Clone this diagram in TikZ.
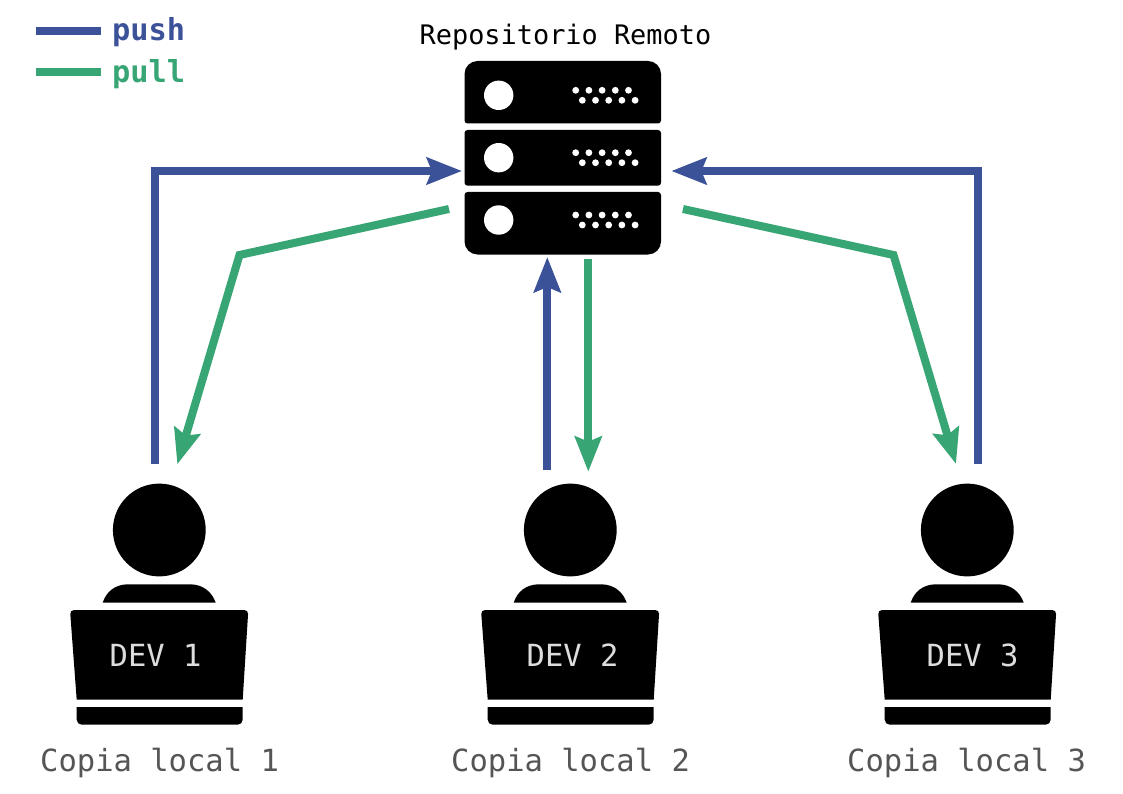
\documentclass[tikz,border=0pt]{standalone}
\usepackage{fontspec}
\setmonofont{DejaVu Sans Mono}
\usetikzlibrary{arrows.meta}
\definecolor{pushc}{HTML}{3B5299}
\definecolor{pullc}{HTML}{38A574}
\definecolor{devtxt}{HTML}{DDDDDD}
\definecolor{loctxt}{HTML}{555555}
\tikzset{
  flow/.style={line width=8pt,line join=miter,-{Stealth[length=35pt,width=26.5pt,inset=5pt]}},
  pushline/.style={flow,draw=pushc},
  pullline/.style={flow,draw=pullc},
  legline/.style={line width=8pt},
  lbl/.style={inner sep=0pt,anchor=base west,font=\ttfamily\fontsize{30.5}{36}\selectfont}
}
\newcommand{\srvmarks}[1]{%
  \fill[white] (498.7,#1) circle[radius=14.7pt];
  \foreach \k in {0,...,4}{
    \fill[white] (575.7+13.2*\k,#1-5) circle[radius=3.4pt];
    \fill[white] (582.3+13.2*\k,#1+5) circle[radius=3.4pt];
  }}
\newcommand{\devfig}[1]{%
  \begin{scope}[xshift=#1pt]
    \fill[black] (159.3,530) circle[radius=46.4pt];
    \fill[black] (102.7,602.7) .. controls (106,592) and (115,584.3) .. (128,584.3)
       -- (190,584.3) .. controls (203,584.3) and (212,592) .. (215.7,602.7) -- cycle;
    \fill[black] (76.7,699.7) [rounded corners=4pt] -- (70,610) -- (248.3,610) [sharp corners] -- (242.7,699.7) -- cycle;
    \fill[black] (76.7,707) -- (242.7,707) [rounded corners=5pt] -- (242.7,724.7) -- (76.7,724.7) [sharp corners] -- cycle;
  \end{scope}}
\begin{document}
\begin{tikzpicture}[x=1pt,y=-1pt]
\useasboundingbox[fill=white] (0,0) rectangle (1123,794);
% server
\fill[black] (464.5,100) [rounded corners=13pt] -- (464.5,61) -- (661,61) [rounded corners=3pt] -- (661,123.5) -- (464.5,123.5) [sharp corners] -- cycle;
\fill[black] (464.5,150) [rounded corners=3pt] -- (464.5,130) -- (661,130) -- (661,185.7) -- (464.5,185.7) [sharp corners] -- cycle;
\fill[black] (464.5,220) [rounded corners=3pt] -- (464.5,192) -- (661,192) [rounded corners=13pt] -- (661,254.5) -- (464.5,254.5) [sharp corners] -- cycle;
\srvmarks{95.3}
\srvmarks{157.7}
\srvmarks{220}
% developers
\devfig{0}
\devfig{411}
\devfig{808}
% labels
\node[lbl,font=\ttfamily\fontsize{26.9}{32}\selectfont] (repo) at (419.5,45) {Repositorio Remoto};
\node[lbl,text=devtxt] (dev1) at (109.5,666) {DEV 1};
\node[lbl,text=devtxt] (dev2) at (526.5,666) {DEV 2};
\node[lbl,text=devtxt] (dev3) at (926.5,666) {DEV 3};
\node[lbl,text=loctxt] (loc1) at (40,771) {Copia local 1};
\node[lbl,text=loctxt] (loc2) at (451,771) {Copia local 2};
\node[lbl,text=loctxt] (loc3) at (847,771) {Copia local 3};
% anchors for connectors
\coordinate (d1push) at (155,464);
\coordinate (d2push) at (547.3,470);
\coordinate (d3push) at (978.3,464);
\coordinate (d1pull) at (177.3,464.3);
\coordinate (d2pull) at (588.3,471.7);
\coordinate (d3pull) at (956,464);
\coordinate (sL) at (462,171);
\coordinate (sR) at (671.3,171);
\coordinate (sB) at (547.3,257);
\coordinate (oL) at (449,209);
\coordinate (oB) at (588.3,259);
\coordinate (oR) at (683,209);
% connectors
\draw[pushline] (d1push) |- (sL);
\draw[pushline] (d2push) -- (sB);
\draw[pushline] (d3push) |- (sR);
\draw[pullline] (oL) -- (239.5,255) -- (d1pull);
\draw[pullline] (oB) -- (d2pull);
\draw[pullline] (oR) -- (893.5,255) -- (d3pull);
% legend
\coordinate (lpa) at (36,31.3); \coordinate (lpb) at (101,31.3);
\coordinate (lqa) at (36,72.3); \coordinate (lqb) at (101,72.3);
\draw[legline,draw=pushc] (lpa) -- (lpb);
\draw[legline,draw=pullc] (lqa) -- (lqb);
\node[lbl,text=pushc,font=\ttfamily\bfseries\fontsize{30.3}{36}\selectfont] (lpush) at (112,41) {push};
\node[lbl,text=pullc,font=\ttfamily\bfseries\fontsize{30.3}{36}\selectfont] (lpull) at (112,82.5) {pull};
\end{tikzpicture}
\end{document}
